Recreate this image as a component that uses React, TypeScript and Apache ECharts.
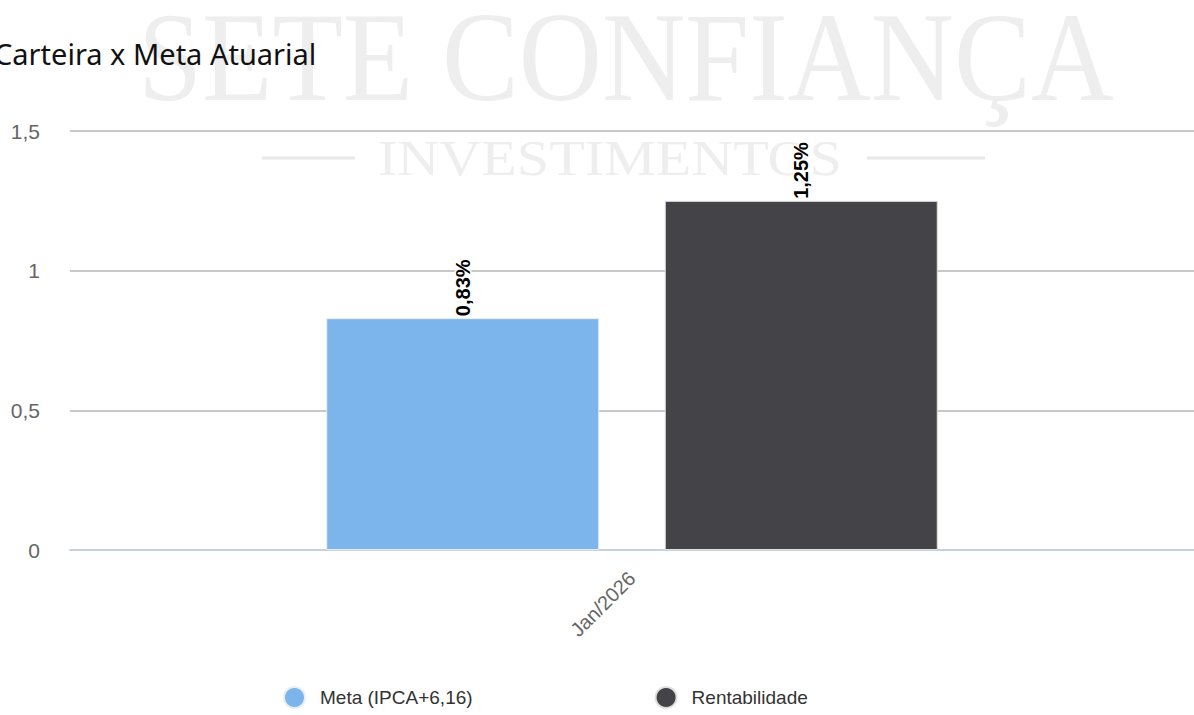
import React, { useEffect, useRef } from "react";
import * as echarts from "echarts";

const titleText = "Carteira x Meta Atuarial";
const categories = ["Jan/2026"];
const seriesNames = ["Meta (IPCA+6,16)", "Rentabilidade"];
const metaValues = [0.83];
const rentValues = [1.25];
const yMin = 0;
const yMax = 1.5;
const yInterval = 0.5;
const watermarkMain = "SETE CONFIANÇA";
const watermarkSub = "INVESTIMENTOS";

const fmtPct = (v: number) => v.toFixed(2).replace(".", ",") + "%";
const fmtNum = (v: number) => String(v).replace(".", ",");

export default function App() {
  const ref = useRef<HTMLDivElement>(null);
  useEffect(() => {
    const chart = echarts.init(ref.current!, null, { renderer: "svg" });
    const barLabel = {
      show: true,
      position: "top",
      rotate: 90,
      align: "left",
      verticalAlign: "middle",
      distance: 2,
      fontFamily: "Liberation Sans, Arial, sans-serif",
      fontSize: 20,
      fontWeight: "bold",
      color: "#000",
      textBorderColor: "#fff",
      textBorderWidth: 3,
      formatter: (p: any) => fmtPct(p.value),
    };
    chart.setOption({
      animation: false,
      backgroundColor: "#ffffff",
      title: {
        text: titleText,
        left: -6,
        top: 39,
        padding: 0,
        textStyle: {
          fontFamily: "Noto Sans",
          fontSize: 29,
          fontWeight: "normal",
          color: "#111",
        },
      },
      graphic: [
        {
          type: "text",
          z: -10,
          silent: true,
          x: 138,
          y: 56,
          scaleX: 0.9,
          style: {
            text: watermarkMain,
            fontFamily: "Liberation Serif",
            fontSize: 128,
            fill: "#eeeeee",
            verticalAlign: "middle",
            align: "left",
          },
        },
        {
          type: "text",
          z: -10,
          silent: true,
          x: 378,
          y: 158,
          scaleX: 1.14,
          style: {
            text: watermarkSub,
            fontFamily: "Liberation Serif",
            fontSize: 51,
            fill: "#eeeeee",
            verticalAlign: "middle",
            align: "left",
          },
        },
        {
          type: "line",
          z: -10,
          silent: true,
          shape: { x1: 262, y1: 158, x2: 355, y2: 158 },
          style: { stroke: "#e8e8e8", lineWidth: 3 },
        },
        {
          type: "line",
          z: -10,
          silent: true,
          shape: { x1: 867, y1: 158, x2: 985, y2: 158 },
          style: { stroke: "#e8e8e8", lineWidth: 3 },
        },
      ],
      grid: { left: 70, right: -14, top: 131, bottom: 165, containLabel: false },
      legend: {
        left: 283,
        top: 686,
        icon: "circle",
        itemWidth: 41,
        itemHeight: 21,
        itemGap: 182,
        padding: 0,
        textStyle: {
          fontFamily: "Liberation Sans, Arial, sans-serif",
          fontSize: 19,
          color: "#333",
        },
        data: seriesNames,
      },
      xAxis: {
        type: "category",
        data: categories,
        axisLine: { show: true, lineStyle: { color: "#c8d0e0", width: 2 } },
        axisTick: { show: false },
        axisLabel: {
          rotate: 45,
          margin: 25,
          fontFamily: "Liberation Sans, Arial, sans-serif",
          fontSize: 20,
          color: "#666",
        },
      },
      yAxis: {
        type: "value",
        min: yMin,
        max: yMax,
        interval: yInterval,
        axisLine: { show: false },
        axisTick: { show: false },
        splitLine: { show: true, lineStyle: { color: "#c8c8c8", width: 2 } },
        axisLabel: {
          margin: 30,
          fontFamily: "Liberation Sans, Arial, sans-serif",
          fontSize: 21,
          color: "#666",
          formatter: (v: number) => fmtNum(v),
        },
      },
      series: [
        {
          name: seriesNames[0],
          type: "bar",
          data: metaValues,
          barWidth: 273,
          barGap: "24%",
          itemStyle: { color: "#7cb5ec", borderColor: "#e8eef5", borderWidth: 1 },
          label: barLabel,
        },
        {
          name: seriesNames[1],
          type: "bar",
          data: rentValues,
          barWidth: 273,
          barGap: "24%",
          itemStyle: { color: "#434348", borderColor: "#e0e0e0", borderWidth: 1 },
          label: barLabel,
        },
      ],
    });
    return () => chart.dispose();
  }, []);
  return (
    <div
      ref={ref}
      style={{ position: "fixed", left: 0, top: 0, width: 1194, height: 715, background: "#fff" }}
    />
  );
}
